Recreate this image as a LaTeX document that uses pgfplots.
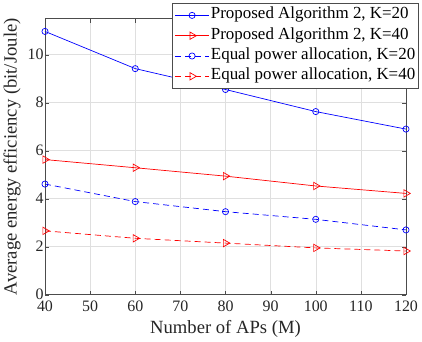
\documentclass[border=0pt]{standalone}
\usepackage{pgfplots}
\pgfplotsset{compat=1.18}
\usepackage{fontspec}
\setmainfont{Liberation Serif}
\begin{document}
\begin{tikzpicture}
\begin{axis}[
  name=ax,
  scale only axis,
  width=361bp, height=276bp,
  xmin=40, xmax=120, ymin=0, ymax=11.5,
  xtick={40,50,...,120}, ytick={0,2,...,10},
  /pgf/number format/assume math mode=true,
  tick label style={font=\fontsize{16}{16}\selectfont, text=black!85},
  xticklabel style={yshift=-3bp},
  yticklabel style={xshift=2bp},
  xlabel style={font=\fontsize{18.7}{18.7}\selectfont, text=black!85, yshift=-2bp},
  ylabel style={font=\fontsize{18.7}{18.7}\selectfont, text=black!85},
  xlabel={Number of APs (M)},
  ylabel={Average energy efficiency (bit/Joule)},
  grid=major,
  major grid style={gray!25, line width=0.5pt},
  axis line style={black!70, line width=0.6pt},
  tick style={black!70},
  tick align=inside,
  major tick length=4bp,
  legend style={at={(1.036,1.057)}, anchor=north east, font=\fontsize{17}{17}\selectfont, draw=black!70, fill=white, line width=0.6pt, inner sep=2pt, row sep=0pt, legend cell align=left,
    nodes={inner ysep=0pt, inner xsep=1.5bp, text height=13.5bp, text depth=6.8bp}},
  legend image code/.code={\draw[mark repeat=2,mark phase=2,#1] plot coordinates {(0cm,0cm) (0.6cm,0cm) (1.2cm,0cm)};},
]
\addplot[blue, line width=0.7pt, mark=o, mark size=3.1pt, mark options={solid}] coordinates {(40,10.97) (60,9.42) (80,8.55) (100,7.63) (120,6.90)};
\addlegendentry{Proposed Algorithm 2, K=20}
\addplot[red, line width=0.7pt, mark=triangle, mark size=4.3pt, mark options={solid, rotate=-90}] coordinates {(40,5.63) (60,5.29) (80,4.94) (100,4.53) (120,4.22)};
\addlegendentry{Proposed Algorithm 2, K=40}
\addplot[blue, dash pattern=on 6bp off 4bp, line width=0.7pt, mark=o, mark size=3.1pt, mark options={solid}] coordinates {(40,4.61) (60,3.88) (80,3.46) (100,3.14) (120,2.70)};
\addlegendentry{Equal power allocation, K=20}
\addplot[red, dash pattern=on 6bp off 4bp, line width=0.7pt, mark=triangle, mark size=4.3pt, mark options={solid, rotate=-90}] coordinates {(40,2.66) (60,2.35) (80,2.15) (100,1.95) (120,1.82)};
\addlegendentry{Equal power allocation, K=40}
\node[anchor=south west, inner sep=1pt, font=\fontsize{13.5}{13.5}\selectfont, text=black!85] at (rel axis cs:0,1) {$\times 10^5$};
\end{axis}
\pgfresetboundingbox
\path[use as bounding box] ([xshift=-45bp,yshift=-47bp]ax.south west) rectangle ([xshift=16bp,yshift=18.7bp]ax.north east);
\end{tikzpicture}
\end{document}
